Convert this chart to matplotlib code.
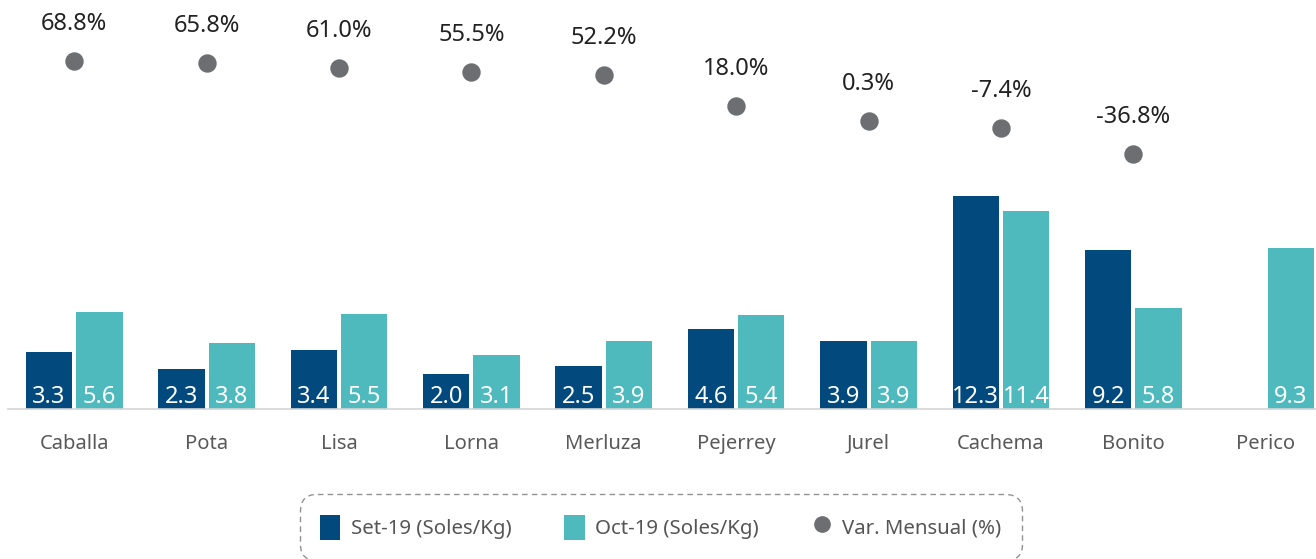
import numpy as np
import matplotlib
matplotlib.use("Agg")
import matplotlib.pyplot as plt
from matplotlib.lines import Line2D
from matplotlib.patches import Patch

plt.rcParams['font.family'] = ['Noto Sans', 'DejaVu Sans']

categories = ["Caballa", "Pota", "Lisa", "Lorna", "Merluza", "Pejerrey", "Jurel", "Cachema", "Bonito", "Perico"]
set19 = [3.3, 2.3, 3.4, 2.0, 2.5, 4.6, 3.9, 12.3, 9.2, np.nan]
oct19 = [5.6, 3.8, 5.5, 3.1, 3.9, 5.4, 3.9, 11.4, 5.8, 9.3]
var_mensual = [68.8, 65.8, 61.0, 55.5, 52.2, 18.0, 0.3, -7.4, -36.8, np.nan]

c_set = "#024A7E"
c_oct = "#4FBABD"
c_dot = "#6D6E71"

W, H = 1316, 559
fig = plt.figure(figsize=(W / 100, H / 100), dpi=100)
ax = fig.add_axes([8 / W, (H - 409) / H, (W - 8) / W, 409 / H])

x = np.arange(len(categories))
bw = 0.35
off = 0.19
b1 = ax.bar(x - off, set19, bw, color=c_set)
b2 = ax.bar(x + off, oct19, bw, color=c_oct)

for bars, vals in ((b1, set19), (b2, oct19)):
    for rect, v in zip(bars, vals):
        if np.isnan(v):
            continue
        ax.annotate(f"{v:.1f}", (rect.get_x() + rect.get_width() / 2, 0),
                    xytext=(0, 0), textcoords="offset points",
                    ha="center", va="bottom", color="white", fontsize=17)

ax.set_xlim(-0.5, 9.38)
ax.set_ylim(0, 23.6)
for s in ["top", "right", "left"]:
    ax.spines[s].set_visible(False)
ax.spines["bottom"].set_color("#d4d4d4")
ax.spines["bottom"].set_linewidth(1.2)
ax.set_yticks([])
ax.set_xticks(x)
ax.set_xticklabels(categories, fontsize=14.5, color="#595959")
ax.tick_params(axis="x", length=0, pad=18)

ax2 = ax.twinx()
ax2.set_ylim(-323.5, 137)
ax2.axis("off")
ax2.scatter(x, var_mensual, s=150, color=c_dot, zorder=3)
for xi, v in zip(x, var_mensual):
    if np.isnan(v):
        continue
    ax2.annotate(f"{v:.1f}%", (xi, v), xytext=(0, 18), textcoords="offset points",
                 ha="center", va="bottom", fontsize=17, color="#222222")

handles = [
    Patch(facecolor=c_set, edgecolor="none", label="Set-19 (Soles/Kg)"),
    Patch(facecolor=c_oct, edgecolor="none", label="Oct-19 (Soles/Kg)"),
    Line2D([0], [0], marker="o", linestyle="none", markersize=11,
           markerfacecolor=c_dot, markeredgecolor=c_dot, label="Var. Mensual (%)"),
]
leg = fig.legend(handles=handles, loc="upper center", bbox_to_anchor=(0.502, (H - 484) / H),
                 ncol=3, frameon=True, fancybox=True, fontsize=14.7, labelcolor="#555555",
                 handlelength=1.0, handleheight=1.5, handletextpad=0.5, columnspacing=2.6,
                 borderpad=1.0)
fr = leg.get_frame()
fr.set_linestyle((0, (4, 3)))
fr.set_edgecolor("#777777")
fr.set_linewidth(1.0)
fr.set_boxstyle("round,pad=0,rounding_size=0.8")

fig.savefig("out.png", dpi=100)
